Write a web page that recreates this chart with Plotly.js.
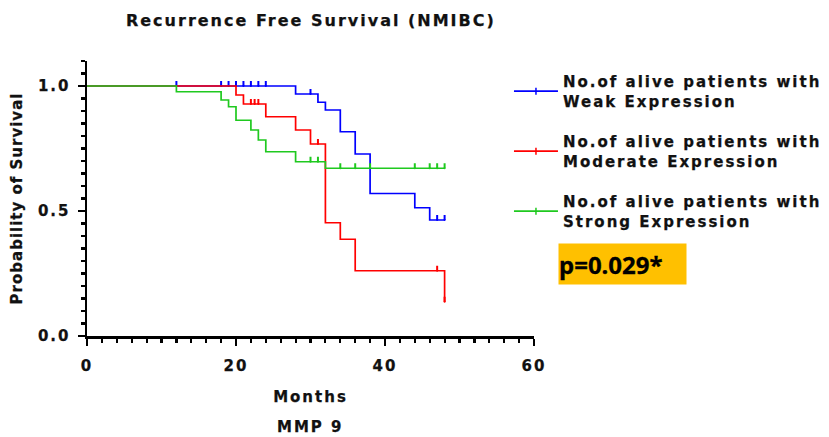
<!DOCTYPE html>
<html>
<head>
<meta charset="utf-8">
<script src="https://cdn.plot.ly/plotly-3.0.1.min.js"></script>
<style>
  html, body { margin: 0; padding: 0; background: #fff; }
  #chart { width: 829px; height: 437px; }
  svg text { letter-spacing: 2px; stroke: #111; stroke-width: 0.25px; }
  .ytitle { letter-spacing: 1px !important; }
  g.annotation:last-of-type text { letter-spacing: 0px; stroke: #000; stroke-width: 0.3px; }
</style>
</head>
<body>
<div id="chart"></div>
<script>
// ---- Data ----
const seriesNames = [
  "No.of alive patients with<br>Weak Expression",
  "No.of alive patients with<br>Moderate Expression",
  "No.of alive patients with<br>Strong Expression"
];
const seriesColors = ["#0000FF", "#FF0000", "#1FC91F"];

// Weak expression: step times (months) and survival probability
const weakT = [0, 28, 31, 32, 34, 36, 38, 44, 46, 48];
const weakS = [1.0, 0.968, 0.935, 0.904, 0.817, 0.728, 0.570, 0.513, 0.464, 0.464];
const weakCens = [12, 18, 19, 20, 21, 22, 23, 24, 30, 47, 48];

// Moderate expression
const modT = [0, 20, 21, 24, 28, 30, 32, 34, 36, 48];
const modS = [1.0, 0.964, 0.928, 0.877, 0.824, 0.768, 0.453, 0.387, 0.261, 0.137];
const modCens = [22, 22.5, 23, 31, 47, 48];

// Strong expression
const strongT = [0, 12, 18, 19, 20, 22, 23, 24, 28, 32, 48];
const strongS = [1.0, 0.977, 0.944, 0.917, 0.863, 0.824, 0.784, 0.737, 0.697, 0.671, 0.671];
const strongCens = [30, 31, 34, 36, 38, 44, 46, 47, 48];

const xTickVals = [0, 20, 40, 60];
const yTickVals = [0.0, 0.5, 1.0];
const yTickText = ["0.0", "0.5", "1.0"];
const pValueText = "p=0.029*";

// ---- Build traces ----
function survAt(T, S, t) {
  let v = S[0];
  for (let i = 0; i < T.length; i++) { if (T[i] <= t) v = S[i]; }
  return v;
}
const groups = [
  [weakT, weakS, weakCens],
  [modT, modS, modCens],
  [strongT, strongS, strongCens]
];
const TICK_UP = 0.02; // censor tick height (style, in axis units)
const traces = [];
groups.forEach((g, i) => {
  const [T, S, C] = g;
  traces.push({
    type: "scatter", mode: "lines", x: T, y: S,
    line: { shape: "hv", color: seriesColors[i], width: 1.7 },
    showlegend: false, hoverinfo: "skip", cliponaxis: false
  });
  traces.push({
    type: "scatter", mode: "markers", x: C, y: C.map(t => survAt(T, S, t)),
    marker: { size: 2, color: seriesColors[i] },
    error_y: { type: "constant", symmetric: false, value: TICK_UP, valueminus: 0,
               width: 0, thickness: 2, color: seriesColors[i] },
    showlegend: false, hoverinfo: "skip", cliponaxis: false
  });
});
// legend entries
groups.forEach((g, i) => {
  traces.push({
    type: "scatter", mode: "lines+markers", x: [null], y: [null],
    name: seriesNames[i], legendgroup: "g" + i,
    line: { color: seriesColors[i], width: 1.6 },
    marker: { symbol: "line-ns", size: 5, color: seriesColors[i],
              line: { color: seriesColors[i], width: 1.5 } }
  });
});

const FONT = "DejaVu Sans";
const axisCommon = {
  showline: true, linecolor: "#000", linewidth: 2.5,
  ticks: "outside", ticklen: 7, tickwidth: 2.5, tickcolor: "#000",
  showgrid: false, zeroline: false,
  tickfont: { family: FONT, size: 15, color: "#111", weight: "bold" }
};

const layout = {
  width: 829, height: 437,
  margin: { l: 87, r: 295, t: 61, b: 101, autoexpand: false },
  paper_bgcolor: "#fff", plot_bgcolor: "#fff",
  title: {
    text: "Recurrence Free Survival (NMIBC)",
    font: { family: FONT, size: 16, color: "#111", weight: "bold" },
    x: 0.375, xanchor: "center", y: 0.954, yanchor: "middle"
  },
  xaxis: Object.assign({}, axisCommon, {
    range: [0, 60], tickvals: xTickVals, ticklabelstandoff: 7,
    minor: { ticks: "outside", ticklen: 4, tickwidth: 2.2, tickcolor: "#000", dtick: 2, showgrid: false },
    title: { text: "Months", standoff: 18,
             font: { family: FONT, size: 15, color: "#111", weight: "bold" } }
  }),
  yaxis: Object.assign({}, axisCommon, {
    range: [0, 1.1], tickvals: yTickVals, ticktext: yTickText, ticklabelstandoff: 4,
    minor: { ticks: "outside", ticklen: 4, tickwidth: 2.2, tickcolor: "#000", dtick: 0.05, tick0: 0, showgrid: false },
    title: { text: "Probability of Survival", standoff: 12,
             font: { family: FONT, size: 15, color: "#111", weight: "bold" } }
  }),
  legend: {
    x: 0.944, xanchor: "left", y: 0.985, yanchor: "top",
    font: { family: FONT, size: 15, color: "#111", weight: "bold" },
    traceorder: "grouped", tracegroupgap: 18, itemwidth: 44,
    bgcolor: "rgba(0,0,0,0)"
  },
  annotations: [
    {
      text: "MMP 9", xref: "paper", yref: "paper", x: 0.5, y: -0.332,
      xanchor: "center", yanchor: "middle", showarrow: false,
      font: { family: FONT, size: 15, color: "#111", weight: "bold" }
    },
    {
      text: pValueText, xref: "paper", yref: "paper",
      x: 1.054, y: 0.339, xanchor: "left", yanchor: "top", showarrow: false,
      bgcolor: "#FFC000", width: 127, height: 40, align: "left", borderpad: 0,
      font: { family: "Noto Sans", size: 24, color: "#000", weight: "bold" }
    }
  ]
};

Plotly.newPlot("chart", traces, layout, { displayModeBar: false, staticPlot: true });
</script>
</body>
</html>
